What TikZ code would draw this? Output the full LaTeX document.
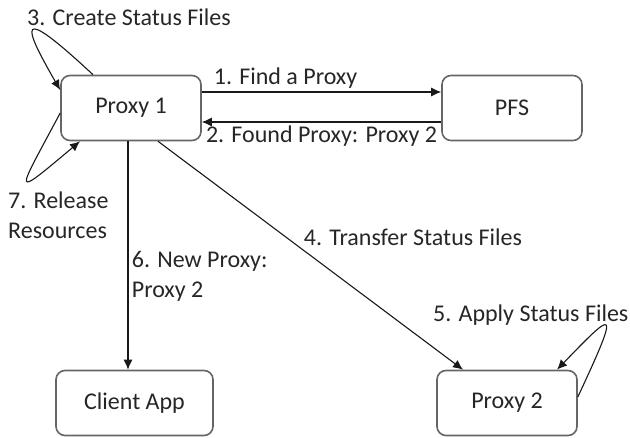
\documentclass[tikz,border=0pt]{standalone}
\usepackage{fontspec}
\setmainfont{Carlito}
\usetikzlibrary{arrows.meta, positioning}
\tikzset{>={Latex[width=9pt,length=10pt]}}
\tikzset{
  box/.style = {draw=black!60, line width=1.6pt, rounded corners=9pt, fill=white,
                minimum width=140pt, minimum height=65pt},
  lbl/.style = {inner sep=0pt, align=left},
  link/.style = {->, line width=1.1pt, black!90},
}

\begin{document}
\begin{tikzpicture}[x=1pt, y=-1pt, on grid, font=\fontsize{24}{30}\selectfont,
                    every node/.style={text=black!85}]
  \useasboundingbox (0,0) rectangle (630,438);

  % the four parties
  \node (p1) [box] at (131,108) {Proxy 1};
  \node (pfs) [box, right = 381pt of p1] {PFS};
  \node (client) [box, below right = 295pt and 3.5pt of p1, minimum width=157pt] {Client App};
  \node (p2) [box, right = 372.5pt of client] {Proxy 2};

  \coordinate (c6) at ([xshift=-3pt]p1.south);

  % messages between them
  \path[link]
    ([yshift=16pt]p1.east) edge node (l1) [above, pos=0.35] {1. Find a Proxy} ([yshift=16pt]pfs.west)
    ([yshift=-14pt]pfs.west) edge node (l2) [below] {2. Found Proxy: Proxy 2} ([yshift=-14pt]p1.east)
    ([xshift=27pt]p1.south) edge node (l4) [above right, pos=0.47, inner sep=2pt] {4. Transfer Status Files} ([xshift=-44pt]p2.north)
    (c6) edge node (l6) [right, pos=0.59, align=left] {6. New Proxy:\\Proxy 2} (c6 |- client.north);

  % self loops
  \draw[link] ([xshift=-38pt]p1.north) .. controls +(137:107pt) and +(120:75pt) .. ([yshift=18pt]p1.west);
  \draw[link] ([yshift=-5pt]p1.west) .. controls +(242:93pt) and +(220:92pt) .. ([xshift=-51pt]p1.south);
  \draw[link] ([yshift=6pt]p2.east) .. controls +(65:102pt) and +(46:84pt) .. ([xshift=50pt]p2.north);

  \node (l3) [lbl, anchor=west] at (27,17) {3. Create Status Files};
  \node (l7) [lbl, anchor=west] at (8,215) {7. Release\\Resources};
  \node (l5) [lbl, anchor=west] at (433,315) {5. Apply Status Files};
\end{tikzpicture}
\end{document}
